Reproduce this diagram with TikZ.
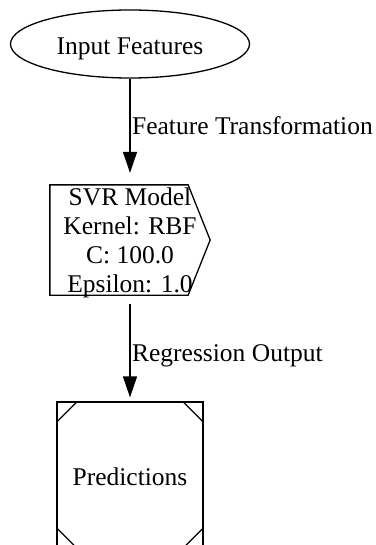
\documentclass[tikz,border=0pt]{standalone}
\usepackage{fontspec}
\setmainfont{Liberation Serif}
\usetikzlibrary{arrows.meta,positioning,shapes.geometric}

\begin{document}
\begin{tikzpicture}[x=1bp, y=-1bp, >={Triangle[length=21bp,width=14bp]}, line width=1.3bp,
        every node/.style={font=\fontsize{25.6}{29.2}\selectfont, inner sep=0pt},
        elabel/.style={anchor=base west, inner xsep=1.5bp}]
        \useasboundingbox (0,0) rectangle (375,545);

        % 节点
        \node[draw, ellipse, minimum width=239bp, minimum height=68bp, text height=22bp, text depth=0pt] (input) at (130,44) {Input Features};
        \node[minimum width=159bp, minimum height=109bp, text depth=0pt, align=center, below of=input, node distance=196bp] (svr) {SVR Model\\Kernel: RBF\\C: 100.0\\Epsilon: 1.0};
        \node[draw, minimum width=146bp, minimum height=146bp, text height=20bp, text depth=0pt, below of=svr, node distance=235bp] (pred) {Predictions};

        % 模型框与角线
        \draw (svr.north west) -- ([xshift=-22bp]svr.north east) -- (svr.east) -- ([xshift=-22bp]svr.south east) -- (svr.south west) -- cycle;
        \draw ([yshift=-21bp]pred.north west) -- ([xshift=21bp]pred.north west);
        \draw ([yshift=-21bp]pred.north east) -- ([xshift=-21bp]pred.north east);
        \draw ([yshift=21bp]pred.south west) -- ([xshift=21bp]pred.south west);
        \draw ([yshift=21bp]pred.south east) -- ([xshift=-21bp]pred.south east);

        % 边
        \draw[->, shorten >=12bp] (input) -- node[elabel, pos=0.524] {Feature Transformation} (svr);
        \draw[->, shorten <=9bp, shorten >=4bp] (svr) -- node[elabel, pos=0.625] {Regression Output} (pred);
\end{tikzpicture}
\end{document}
